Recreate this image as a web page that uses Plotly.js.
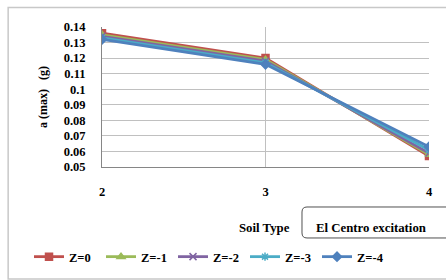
<!DOCTYPE html>
<html><head><meta charset="utf-8">
<script src="https://cdn.plot.ly/plotly-3.0.1.min.js"></script>
<style>html,body{margin:0;padding:0;background:#fff;}#chart{width:446px;height:280px;}</style>
</head><body><div id="chart"></div>
<script>
const soilTypes = [2, 3, 4];
const seriesNames = ["Z=0", "Z=-1", "Z=-2", "Z=-3", "Z=-4"];
const z0 = [0.136, 0.120, 0.057];
const z1 = [0.135, 0.119, 0.058];
const z2 = [0.134, 0.118, 0.059];
const z3 = [0.133, 0.117, 0.061];
const z4 = [0.132, 0.116, 0.063];
const yTicks = [0.05,0.06,0.07,0.08,0.09,0.1,0.11,0.12,0.13,0.14];

const colors = ["#C0504D", "#9BBB59", "#8064A2", "#4BACC6", "#4F81BD"];
const symbols = ["square", "triangle-up", "x-thin-open", "asterisk-open", "diamond"];
const all = [z0, z1, z2, z3, z4];
const fam = "Liberation Serif, Times New Roman, serif";
const bold = (size) => ({family: fam, size: size, color: "#000", weight: "bold"});

const traces = all.map((vals, i) => ({
  x: soilTypes, y: vals, name: seriesNames[i], type: "scatter", mode: "lines+markers",
  line: {color: colors[i], width: 2.8},
  marker: {symbol: symbols[i], size: 7, color: colors[i], line: {color: colors[i], width: 1.5}}
}));

const rx = 5 / 327, ry = 5 / 140;
const bx0 = 0.6116, bx1 = 1.08, by0 = -0.2857, by1 = -0.507;
const boxPath = `M ${bx0 + rx},${by0} L ${bx1},${by0} L ${bx1},${by1} L ${bx0 + rx},${by1} ` +
  `Q ${bx0},${by1} ${bx0},${by1 + ry} L ${bx0},${by0 - ry} Q ${bx0},${by0} ${bx0 + rx},${by0} Z`;

const layout = {
  width: 446, height: 280,
  margin: {l: 102, r: 17, t: 27, b: 113, autoexpand: false},
  paper_bgcolor: "#fff", plot_bgcolor: "#fff",
  font: {family: fam, size: 12, color: "#000"},
  showlegend: true,
  legend: {orientation: "h", x: -0.2232, xref: "paper", y: -0.643, yref: "paper", yanchor: "middle",
           xanchor: "left", font: bold(12.5),
           itemwidth: 30, entrywidth: 27, entrywidthmode: "pixels", tracegroupgap: 0},
  xaxis: {range: [2, 4], tickvals: soilTypes, ticktext: soilTypes.map(String), showgrid: true,
          gridcolor: "#c0c0c0", gridwidth: 1, showline: true, linecolor: "#868686", linewidth: 1,
          ticks: "", ticklabelstandoff: 13, zeroline: false, tickfont: bold(12.5)},
  yaxis: {range: [0.05, 0.14], tickvals: yTicks, ticktext: yTicks.map(String), showgrid: true,
          gridcolor: "#c0c0c0", gridwidth: 1, showline: true, linecolor: "#868686", linewidth: 1,
          ticks: "", ticklabelstandoff: 13, zeroline: false, tickfont: bold(12.5),
          title: {text: "a (max)   (g)", standoff: 13, font: bold(12)}},
  annotations: [
    {xref: "paper", yref: "paper", x: 0.581, y: -0.436, xanchor: "right", yanchor: "middle",
     text: "Soil Type", showarrow: false, font: bold(12.8)},
    {xref: "paper", yref: "paper", x: 0.824, y: -0.436, xanchor: "center", yanchor: "middle",
     text: "El Centro excitation", showarrow: false, font: bold(12.8)}
  ],
  shapes: [
    {type: "rect", xref: "paper", yref: "paper", x0: -0.287, x1: 1.06, y0: -0.80, y1: 1.14,
     line: {color: "#c8c8c8", width: 1.5}, fillcolor: "rgba(0,0,0,0)", layer: "below"},
    {type: "path", xref: "paper", yref: "paper", path: boxPath,
     line: {color: "#505050", width: 1}, fillcolor: "rgba(0,0,0,0)"}
  ]
};
Plotly.newPlot("chart", traces, layout, {displayModeBar: false, staticPlot: true});
</script></body></html>
